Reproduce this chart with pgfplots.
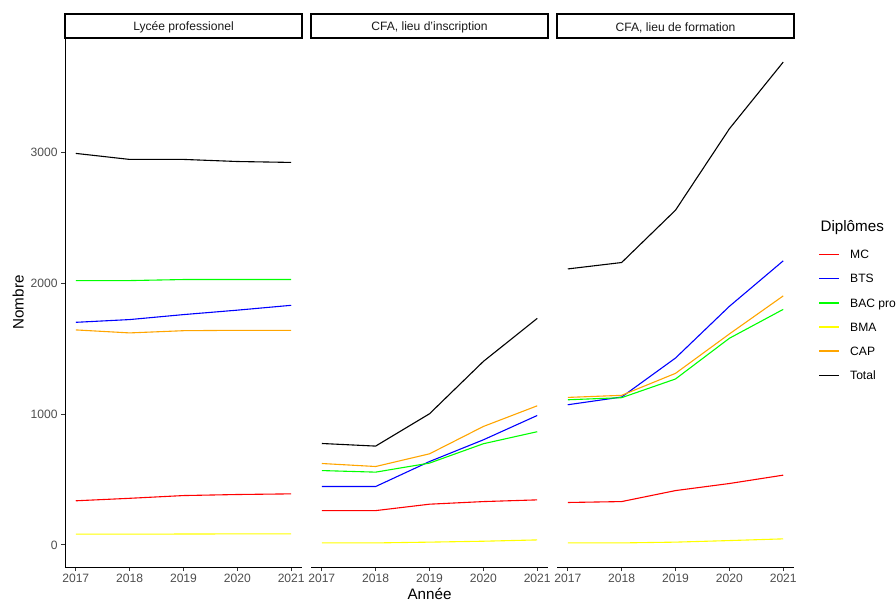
\documentclass[border=0pt]{standalone}
\usepackage{pgfplots}
\pgfplotsset{compat=1.18}
\usepackage{pgfplotstable}
\usepackage{fontspec}
\setmainfont{Liberation Sans}

\definecolor{txtgray}{HTML}{4D4D4D}
\definecolor{tickgray}{HTML}{333333}
\definecolor{stripgray}{HTML}{1A1A1A}
\definecolor{colmc}{HTML}{FF0000}
\definecolor{colbts}{HTML}{0000FF}
\definecolor{colbac}{HTML}{00FF00}
\definecolor{colbma}{HTML}{FFFF00}
\definecolor{colcap}{HTML}{FFA500}

% Lycee professionel
\pgfplotstableread{
year MC  BTS  BAC  BMA CAP  Total
2017 337 1701 2020 82  1643 2992
2018 356 1722 2020 82  1620 2946
2019 377 1760 2028 83  1637 2946
2020 385 1794 2028 84  1640 2930
2021 390 1831 2028 84  1640 2923
}\lycee
% CFA, lieu d'inscription
\pgfplotstableread{
year MC  BTS BAC BMA CAP  Total
2017 262 446 568 15  622  775
2018 262 446 556 15  599  755
2019 311 637 625 21  696  1002
2020 331 803 773 28  905  1402
2021 344 989 865 38  1063 1731
}\cfainsc
% CFA, lieu de formation
\pgfplotstableread{
year MC  BTS  BAC  BMA CAP  Total
2017 324 1071 1109 15  1127 2109
2018 331 1130 1125 15  1143 2158
2019 415 1428 1268 21  1311 2558
2020 469 1823 1579 33  1612 3180
2021 533 2171 1800 46  1903 3690
}\cfaform

\newcommand{\smallfont}{\fontsize{12.1bp}{14bp}\selectfont}
\newcommand{\bigfont}{\fontsize{15.2bp}{18bp}\selectfont}
% legend key: a coloured rule, then the label
\newcommand{\key}[2]{\textcolor{#1}{\rule[3.6bp]{20bp}{1.6bp}}\hspace{11bp}#2}

\pgfplotsset{
  facet/.style={
    scale only axis, width=237bp, height=529bp,
    xmin=2016.8, xmax=2021.2, ymin=-169, ymax=3874,
    xtick={2017,2018,2019,2020,2021}, ytick={0,1000,2000,3000},
    tick align=outside, major tick length=4bp,
    tick style={color=tickgray, line width=0.8bp},
    axis line style={line width=0.8bp, black},
    ticklabel style={font=\smallfont, text=txtgray},
    /pgf/number format/1000 sep={},
    /pgf/number format/assume math mode=true,
    clip=false, anchor=south west,
    every axis plot/.append style={line width=1.1bp},
  },
  strip/.style={
    after end axis/.append code={
      \draw[line width=1.5bp, fill=white] (rel axis cs:0,1) rectangle ([yshift=24bp]rel axis cs:1,1);
      \node[font=\smallfont, text=stripgray] at ([yshift=10.5bp]rel axis cs:0.5,1) {#1};
    }
  },
}

\begin{document}
\begin{tikzpicture}
\path[use as bounding box] (0,0) rectangle (896bp,601bp);

\begin{axis}[facet, at={(65bp,34bp)},
  axis x line*=bottom, axis y line*=left,
  strip={Lycée professionel},
  ylabel={Nombre}, ylabel style={font=\bigfont, rotate=0, anchor=center, at={(axis description cs:-0.198,0.5)}}]
\addplot[color=colmc]  table[x=year,y=MC]    {\lycee};
\addplot[color=colbts] table[x=year,y=BTS]   {\lycee};
\addplot[color=colbac] table[x=year,y=BAC]   {\lycee};
\addplot[color=colbma] table[x=year,y=BMA]   {\lycee};
\addplot[color=colcap] table[x=year,y=CAP]   {\lycee};
\addplot[color=black]  table[x=year,y=Total] {\lycee};
\end{axis}

\begin{axis}[facet, at={(311bp,34bp)},
  axis x line*=bottom, axis y line=none,
  strip={CFA, lieu d'inscription},
  xlabel={Année}, xlabel style={font=\bigfont, anchor=base, at={(axis description cs:0.5,0)}, yshift=-32bp}]
\addplot[color=colmc]  table[x=year,y=MC]    {\cfainsc};
\addplot[color=colbts] table[x=year,y=BTS]   {\cfainsc};
\addplot[color=colbac] table[x=year,y=BAC]   {\cfainsc};
\addplot[color=colbma] table[x=year,y=BMA]   {\cfainsc};
\addplot[color=colcap] table[x=year,y=CAP]   {\cfainsc};
\addplot[color=black]  table[x=year,y=Total] {\cfainsc};
\end{axis}

\begin{axis}[facet, at={(557bp,34bp)},
  axis x line*=bottom, axis y line=none,
  strip={CFA, lieu de formation},
  legend cell align=left,
  legend image code/.code={},
  legend style={at={(1.1055,0.600)}, anchor=north west, draw=none, fill=none,
    inner sep=0pt, row sep=12.2bp, font=\smallfont,
    nodes={inner sep=0pt, text height=9bp, text depth=3bp}}]
\addplot[color=colmc]  table[x=year,y=MC]    {\cfaform};
\addlegendentry{\key{colmc}{MC}}
\addplot[color=colbts] table[x=year,y=BTS]   {\cfaform};
\addlegendentry{\key{colbts}{BTS}}
\addplot[color=colbac] table[x=year,y=BAC]   {\cfaform};
\addlegendentry{\key{colbac}{BAC pro}}
\addplot[color=colbma] table[x=year,y=BMA]   {\cfaform};
\addlegendentry{\key{colbma}{BMA}}
\addplot[color=colcap] table[x=year,y=CAP]   {\cfaform};
\addlegendentry{\key{colcap}{CAP}}
\addplot[color=black]  table[x=year,y=Total] {\cfaform};
\addlegendentry{\key{black}{Total}}
\end{axis}

\node[anchor=west, font=\bigfont] at (817bp,373.5bp) {Diplômes};
\end{tikzpicture}
\end{document}
